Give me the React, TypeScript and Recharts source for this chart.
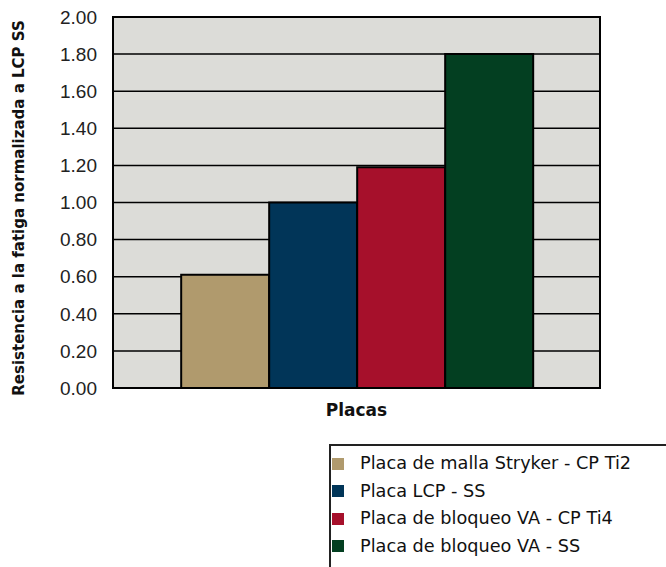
import React from "react";
import {
  Bar,
  BarChart,
  CartesianGrid,
  Legend,
  ReferenceArea,
  XAxis,
  YAxis,
} from "recharts";

const seriesNames = [
  "Placa de malla Stryker - CP Ti2",
  "Placa LCP - SS",
  "Placa de bloqueo VA - CP Ti4",
  "Placa de bloqueo VA - SS",
];
const seriesValues = [0.61, 1.0, 1.19, 1.8];
const seriesColors = ["#b09a6d", "#013558", "#a6102b", "#033f21"];
const yTicks = [0, 0.2, 0.4, 0.6, 0.8, 1.0, 1.2, 1.4, 1.6, 1.8, 2.0];
const category = "Placas";

const data = [
  seriesValues.reduce<Record<string, number | string>>(
    (row, v, i) => {
      row["s" + i] = v;
      return row;
    },
    { name: category }
  ),
];

function LegendBox({ payload }: any) {
  // keep the series order, not recharts' alphabetical one
  const items = [...(payload || [])].sort(
    (a: any, b: any) => seriesNames.indexOf(a.value) - seriesNames.indexOf(b.value)
  );
  return (
    <div
      style={{
        boxSizing: "border-box",
        width: "100%",
        height: "100%",
        background: "#fff",
        borderTop: "2px solid #222",
        borderLeft: "2px solid #222",
        paddingTop: 4,
        fontFamily: "DejaVu Sans",
        fontSize: 17.7,
        color: "#111",
      }}
    >
      {items.map((item: any) => (
        <div
          key={item.value}
          style={{ display: "flex", alignItems: "center", height: 27.5, lineHeight: "27.5px" }}
        >
          <span
            style={{
              display: "inline-block",
              width: 12,
              height: 12,
              marginLeft: 1,
              marginRight: 16,
              background: item.color,
            }}
          />
          <span>{item.value}</span>
        </div>
      ))}
    </div>
  );
}

function YLabel() {
  const y = 208;
  return (
    <text
      x={19}
      y={y}
      transform={`rotate(-90 19 ${y})`}
      textAnchor="middle"
      dominantBaseline="central"
      fontFamily="DejaVu Sans"
      fontWeight="bold"
      fontSize={15}
      fill="#111"
    >
      Resistencia a la fatiga normalizada a LCP SS
    </text>
  );
}

export default function App() {
  return (
    <div style={{ position: "absolute", left: 0, top: 0, width: 666, height: 567 }}>
      <BarChart
        width={666}
        height={567}
        data={data}
        margin={{ top: 17, right: 66, left: 0, bottom: 139 }}
        barCategoryGap="14%"
        barGap={0}
      >
        <CartesianGrid
          vertical={false}
          fill="#dcdcd8"
          fillOpacity={1}
          stroke="#000"
          strokeWidth={1.5}
          strokeOpacity={1}
        />
        <XAxis
          dataKey="name"
          tick={false}
          tickLine={false}
          axisLine={{ stroke: "#000", strokeWidth: 2 }}
          height={40}
          label={{
            value: category,
            position: "insideBottom",
            offset: 12,
            fontFamily: "DejaVu Sans",
            fontWeight: "bold",
            fontSize: 17,
            fill: "#111",
          }}
        />
        <YAxis
          width={113}
          domain={[0, 2]}
          ticks={yTicks}
          interval={0}
          tickFormatter={(v: number) => v.toFixed(2)}
          tickLine={false}
          tickSize={0}
          tickMargin={16}
          axisLine={{ stroke: "#000", strokeWidth: 2 }}
          tick={{ fontFamily: "Liberation Sans, Arial", fontSize: 19, fill: "#222" }}
          label={<YLabel />}
        />
        {seriesNames.map((n, i) => (
          <Bar
            key={n}
            dataKey={"s" + i}
            name={n}
            fill={seriesColors[i]}
            stroke="#000"
            strokeWidth={2}
            isAnimationActive={false}
          />
        ))}
        <ReferenceArea
          y1={0}
          y2={2}
          fill="none"
          fillOpacity={0}
          stroke="#000"
          strokeWidth={2}
          ifOverflow="visible"
        />
        <Legend
          layout="horizontal"
          verticalAlign="middle"
          align="center"
          content={<LegendBox />}
          wrapperStyle={{ position: "absolute", left: 329, top: 444, width: 337, height: 123 }}
        />
      </BarChart>
    </div>
  );
}
